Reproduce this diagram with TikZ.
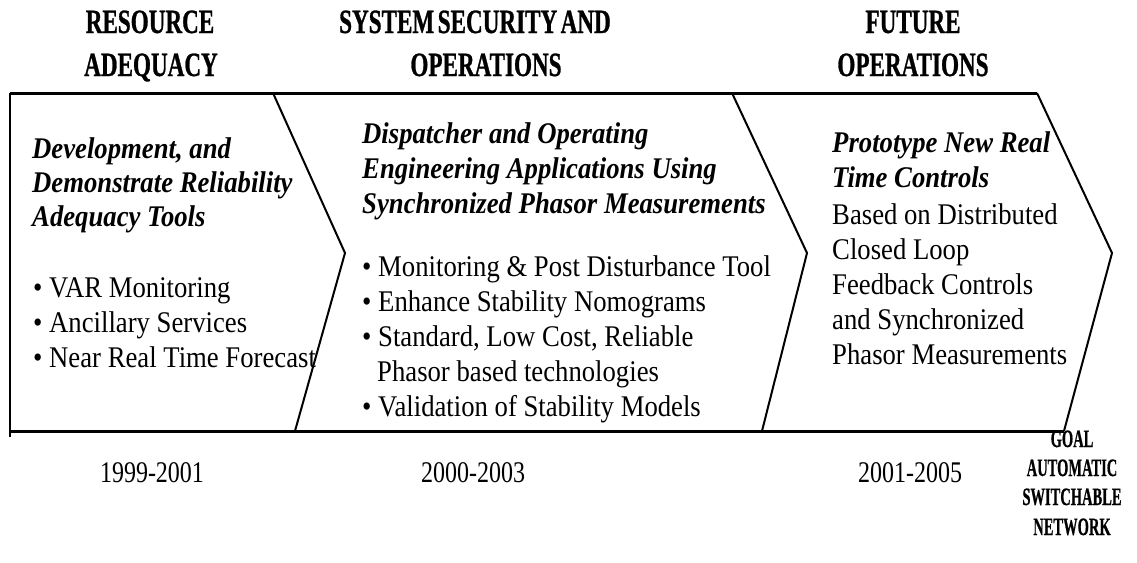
\documentclass[tikz,border=0pt]{standalone}
\usepackage{fontspec}
\setmainfont{Liberation Serif}
\newfontfamily\hdfont[FakeStretch=0.68,WordSpace=0.6,FakeBold=0.8]{Liberation Serif}
\newfontfamily\bodyfont[FakeStretch=0.89]{Liberation Serif}
\newfontfamily\yrfont[FakeStretch=0.80]{Liberation Serif}
\newfontfamily\goalfont[FakeStretch=0.58,FakeBold=0.6]{Liberation Serif}
\begin{document}
\begin{tikzpicture}[x=1pt,y=-1pt,
  hd/.style={anchor=base,inner sep=0pt,font=\hdfont\bfseries\fontsize{34}{34}\selectfont},
  ttl/.style={anchor=base west,inner sep=0pt,font=\bodyfont\bfseries\itshape\fontsize{30}{30}\selectfont},
  txt/.style={anchor=base west,inner sep=0pt,font=\bodyfont\fontsize{30}{30}\selectfont},
  yr/.style={anchor=base,inner sep=0pt,font=\yrfont\fontsize{30}{30}\selectfont},
  goal/.style={anchor=base,inner sep=0pt,font=\goalfont\bfseries\fontsize{25}{25}\selectfont},
  edge/.style={line width=3pt},
  chev/.style={line width=2pt,line join=miter}]
\useasboundingbox (0,0) rectangle (1137,562);
% outline coordinates
\coordinate (tl) at (10,93);
\coordinate (bl) at (10,431);
\coordinate (blx) at (10,437);
\coordinate (c1t) at (273,93);
\coordinate (c1m) at (345,253);
\coordinate (c1b) at (295,431);
\coordinate (c2t) at (732,93);
\coordinate (c2m) at (807,253);
\coordinate (c2b) at (762,431);
\coordinate (c3t) at (1037,93);
\coordinate (c3m) at (1112,253);
\coordinate (c3b) at (1064,431);
\draw[edge] (tl) -- (c3t);
\draw[edge] (bl) -- (c3b);
\draw[chev] (tl) -- (blx);
\draw[chev] (c1t) -- (c1m) -- (c1b);
\draw[chev] (c2t) -- (c2m) -- (c2b);
\draw[chev] (c3t) -- (c3m) -- (c3b);
% headers
\node[hd] (h1a) at (150,33) {RESOURCE};
\node[hd] (h1b) at (151,76) {ADEQUACY};
\node[hd] (h2a) at (475,33) {SYSTEM SECURITY AND};
\node[hd] (h2b) at (486,76) {OPERATIONS};
\node[hd] (h3a) at (913,33) {FUTURE};
\node[hd] (h3b) at (913,76) {OPERATIONS};
% left block
\node[ttl] (l1) at (32,158) {Development, and};
\node[ttl] (l2) at (32,192) {Demonstrate Reliability};
\node[ttl] (l3) at (32,226) {Adequacy Tools};
\node[txt] (l4) at (33,297) {• VAR Monitoring};
\node[txt] (l5) at (33,332) {• Ancillary Services};
\node[txt] (l6) at (33,367) {• Near Real Time Forecast};
% middle block
\node[ttl] (m1) at (362,143) {Dispatcher and Operating};
\node[ttl] (m2) at (362,178) {Engineering Applications Using};
\node[ttl] (m3) at (362,213) {Synchronized Phasor Measurements};
\node[txt] (m4) at (362,276) {• Monitoring \& Post Disturbance Tool};
\node[txt] (m5) at (362,311) {• Enhance Stability Nomograms};
\node[txt] (m6) at (362,346) {• Standard, Low Cost, Reliable};
\node[txt] (m7) at (377,381) {Phasor based technologies};
\node[txt] (m8) at (362,416) {• Validation of Stability Models};
% right block
\node[ttl] (r1) at (832,152) {Prototype New Real};
\node[ttl] (r2) at (832,187) {Time Controls};
\node[txt] (r3) at (832,224) {Based on Distributed};
\node[txt] (r4) at (832,259) {Closed Loop};
\node[txt] (r5) at (832,294) {Feedback Controls};
\node[txt] (r6) at (832,329) {and Synchronized};
\node[txt] (r7) at (832,364) {Phasor Measurements};
% years
\node[yr] (y1) at (152,482) {1999-2001};
\node[yr] (y2) at (473,482) {2000-2003};
\node[yr] (y3) at (910,482) {2001-2005};
% goal
\node[goal] (g1) at (1072,447) {GOAL};
\node[goal] (g2) at (1072,476) {AUTOMATIC};
\node[goal] (g3) at (1072,505) {SWITCHABLE};
\node[goal] (g4) at (1072,535) {NETWORK};
\end{tikzpicture}
\end{document}
